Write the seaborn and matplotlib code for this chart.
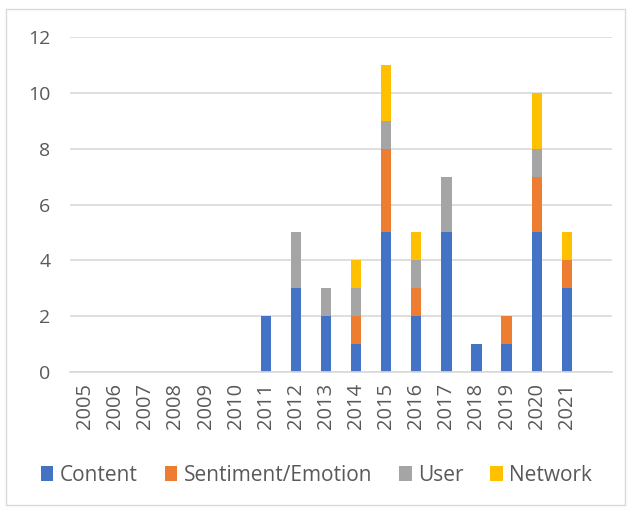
import matplotlib
matplotlib.use("Agg")
import matplotlib.pyplot as plt
import seaborn as sns
import pandas as pd
import numpy as np
from matplotlib.patches import Patch, Rectangle

years = [str(y) for y in range(2005, 2022)]
content = [0, 0, 0, 0, 0, 0, 2, 3, 2, 1, 5, 2, 5, 1, 1, 5, 3]
sentiment = [0, 0, 0, 0, 0, 0, 0, 0, 0, 1, 3, 1, 0, 0, 1, 2, 1]
user = [0, 0, 0, 0, 0, 0, 0, 2, 1, 1, 1, 1, 2, 0, 0, 1, 0]
network = [0, 0, 0, 0, 0, 0, 0, 0, 0, 1, 2, 1, 0, 0, 0, 2, 1]
series_names = ["Content", "Sentiment/Emotion", "User", "Network"]
colors = ["#4472C4", "#ED7D31", "#A5A5A5", "#FFC000"]

sns.set_theme(style="white")
plt.rcParams["font.family"] = ["Open Sans", "DejaVu Sans"]

df = pd.DataFrame({"year": years, "Content": content, "Sentiment/Emotion": sentiment,
                   "User": user, "Network": network})
cum = df[series_names].cumsum(axis=1)

fig = plt.figure(figsize=(6.33, 5.11), dpi=100)
ax = fig.add_axes([70/633, 1 - 372/511, (612-70)/633, (372-37)/511])

for name, col in reversed(list(zip(series_names, colors))):
    d = pd.DataFrame({"year": years, "val": cum[name]})
    sns.barplot(data=d, x="year", y="val", order=years, color=col, width=0.34,
                saturation=1, ax=ax, zorder=3, linewidth=0)

ax.set_xlim(-0.5, len(years) + 0.5)
ax.set_ylim(0, 12)
ax.set_yticks(np.arange(0, 13, 2))
ax.yaxis.grid(True, color="#D9D9D9", lw=1.2, zorder=0)
ax.set_axisbelow(True)
for s in ["top", "right", "left"]:
    ax.spines[s].set_visible(False)
ax.spines["bottom"].set_color("#D9D9D9")
ax.spines["bottom"].set_linewidth(1.2)
ax.spines["bottom"].set_zorder(4)
ax.set_xlabel("")
ax.set_ylabel("")
ax.tick_params(axis="x", labelrotation=90, labelsize=14.5, colors="#595959", length=0, pad=8)
ax.tick_params(axis="y", labelsize=14, colors="#595959", length=0, pad=14)

handles = [Patch(facecolor=c, edgecolor="none") for c in colors]
fig.legend(handles, series_names, loc="center", bbox_to_anchor=(0.5, 1 - 475/511), ncol=4,
           frameon=False, fontsize=15, labelcolor="#595959", handlelength=0.6, handleheight=0.75,
           handletextpad=0.3, columnspacing=1.3)

fig.patches.append(Rectangle((6/633, 1 - 505/511), (625-6)/633, (505-9)/511,
                             transform=fig.transFigure, fill=False, edgecolor="#D9D9D9", lw=1))

fig.savefig("out.png", dpi=100)
